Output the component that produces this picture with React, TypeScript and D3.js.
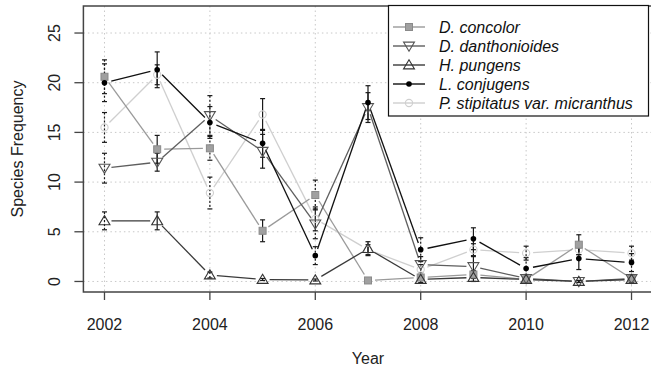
import React from "react";
import * as d3 from "d3";

const years = [2002, 2003, 2004, 2005, 2006, 2007, 2008, 2009, 2010, 2011, 2012];
const xTicks = [2002, 2004, 2006, 2008, 2010, 2012];
const yTicks = [0, 5, 10, 15, 20, 25];

const concolor = [20.6, 13.3, 13.4, 5.1, 8.7, 0.1, 0.4, 0.7, 0.2, 3.7, 0.3];
const concolorSE = [1.7, 1.4, 1.2, 1.1, 1.5, 0.1, 0.3, 0.4, 0.2, 1.0, 0.3];
const danthonioides = [11.4, 12.0, 16.7, 13.1, 5.8, 17.5, 1.7, 1.5, 0.3, 0.0, 0.3];
const danthonioidesSE = [1.5, 0.9, 2.0, 1.7, 1.5, 1.5, 0.8, 1.0, 0.4, 0.1, 0.4];
const pungens = [6.1, 6.1, 0.65, 0.2, 0.15, 3.3, 0.2, 0.4, 0.2, 0.0, 0.2];
const pungensSE = [0.9, 0.9, 0.3, 0.1, 0.1, 0.7, 0.3, 0.4, 0.3, 0.1, 0.3];
const conjugens = [20.0, 21.3, 16.0, 13.9, 2.6, 18.0, 3.2, 4.3, 1.3, 2.3, 1.9];
const conjugensSE = [1.9, 1.8, 1.6, 1.4, 0.9, 1.7, 1.2, 1.1, 1.1, 1.1, 0.9];
const stipitatus = [15.5, 20.8, 8.9, 16.8, 6.3, 3.2, 1.2, 3.2, 2.85, 3.2, 2.85];
const stipitatusSE = [1.5, 1.0, 1.6, 1.6, 1.2, 0.5, 0.5, 0.6, 0.7, 0.5, 0.7];

const seriesNames = [
  "D. concolor",
  "D. danthonioides",
  "H. pungens",
  "L. conjugens",
  "P. stipitatus var. micranthus",
];

type Sym = "square" | "tridown" | "triup" | "dot" | "circle";
const series = [
  { name: seriesNames[4], vals: stipitatus, se: stipitatusSE, color: "#cfcfcf", sym: "circle" as Sym },
  { name: seriesNames[0], vals: concolor, se: concolorSE, color: "#9a9a9a", sym: "square" as Sym },
  { name: seriesNames[1], vals: danthonioides, se: danthonioidesSE, color: "#5e5e5e", sym: "tridown" as Sym },
  { name: seriesNames[2], vals: pungens, se: pungensSE, color: "#3a3a3a", sym: "triup" as Sym },
  { name: seriesNames[3], vals: conjugens, se: conjugensSE, color: "#111111", sym: "dot" as Sym },
];
const legendOrder = [1, 2, 3, 4, 0];

const FONT = "'Liberation Sans', Arial, sans-serif";

function Marker({ sym, x, y, color }: { sym: Sym; x: number; y: number; color: string }) {
  if (sym === "square")
    return <rect x={x - 3.5} y={y - 3.5} width={7} height={7} fill="#a0a0a0" stroke="#8a8a8a" strokeWidth={1} />;
  if (sym === "dot") return <circle cx={x} cy={y} r={2.8} fill="#000" />;
  if (sym === "circle") return <circle cx={x} cy={y} r={3.6} fill="none" stroke={color} strokeWidth={1.1} />;
  const s = 5.2;
  if (sym === "triup")
    return (
      <path
        d={`M${x},${y - s}L${x + s * 1.05},${y + s * 0.75}L${x - s * 1.05},${y + s * 0.75}Z`}
        fill="none"
        stroke="#333"
        strokeWidth={1.1}
      />
    );
  return (
    <path
      d={`M${x},${y + s}L${x + s * 1.05},${y - s * 0.75}L${x - s * 1.05},${y - s * 0.75}Z`}
      fill="none"
      stroke="#555"
      strokeWidth={1.1}
    />
  );
}

export default function App() {
  const W = 651;
  const H = 373;
  const x = d3.scaleLinear().domain([2001.6, 2012.4]).range([83.4, 652.6]);
  const y = d3.scaleLinear().domain([-1.06, 27.72]).range([292, 6]);
  const left = 83.4;
  const top = 6;
  const bottom = 292;
  const gap = 7;

  const segs = (vals: number[]) => {
    const out: { x1: number; y1: number; x2: number; y2: number }[] = [];
    for (let i = 0; i < vals.length - 1; i++) {
      const ax = x(years[i]), ay = y(vals[i]);
      const bx = x(years[i + 1]), by = y(vals[i + 1]);
      const L = Math.hypot(bx - ax, by - ay);
      if (L <= 2 * gap) continue;
      const ux = (bx - ax) / L, uy = (by - ay) / L;
      out.push({ x1: ax + ux * gap, y1: ay + uy * gap, x2: bx - ux * gap, y2: by - uy * gap });
    }
    return out;
  };

  return (
    <svg width={W} height={H} style={{ position: "absolute", left: 0, top: 0, background: "#fff" }} fontFamily={FONT}>
      <rect x={0} y={0} width={W} height={H} fill="#fff" />
      {/* grid */}
      {xTicks.map((t) => (
        <line key={"gx" + t} x1={x(t)} x2={x(t)} y1={top} y2={bottom} stroke="#c8c8c8" strokeDasharray="1.5,3" strokeWidth={1} />
      ))}
      {yTicks.map((t) => (
        <line key={"gy" + t} x1={left} x2={W} y1={y(t)} y2={y(t)} stroke="#c8c8c8" strokeDasharray="1.5,3" strokeWidth={1} />
      ))}
      {/* lines */}
      {series.map((s) => (
        <g key={"l" + s.name}>
          {segs(s.vals).map((g, i) => (
            <line key={i} x1={g.x1} y1={g.y1} x2={g.x2} y2={g.y2} stroke={s.color} strokeWidth={1.3} />
          ))}
        </g>
      ))}
      {/* error bars */}
      {series.map((s) => (
        <g key={"e" + s.name}>
          {s.vals.map((v, i) => {
            const yr = years[i];
            const dotted = yr % 2 === 0;
            const cx = x(yr);
            const y1 = y(v + s.se[i]);
            const y2 = y(v - s.se[i]);
            return (
              <g key={i} stroke="#1a1a1a" strokeWidth={1.2}>
                <line x1={cx} x2={cx} y1={y1} y2={y2} strokeDasharray={dotted ? "2,2" : undefined} />
                <line x1={cx - 2.5} x2={cx + 2.5} y1={y1} y2={y1} />
                <line x1={cx - 2.5} x2={cx + 2.5} y1={y2} y2={y2} />
              </g>
            );
          })}
        </g>
      ))}
      {/* markers */}
      {series.map((s) => (
        <g key={"m" + s.name}>
          {s.vals.map((v, i) => (
            <Marker key={i} sym={s.sym} x={x(years[i])} y={y(v)} color={s.color} />
          ))}
        </g>
      ))}
      {/* box */}
      <path d={`M${W + 2},${top}H${left}V${bottom}H${W + 2}`} fill="none" stroke="#444" strokeWidth={1.5} />
      {/* axes ticks */}
      {xTicks.map((t) => (
        <g key={"tx" + t}>
          <line x1={x(t)} x2={x(t)} y1={bottom} y2={bottom + 8} stroke="#444" strokeWidth={1.3} />
          <text x={x(t)} y={324} textAnchor="middle" dominantBaseline="central" fontSize={16} fill="#222">
            {t}
          </text>
        </g>
      ))}
      {yTicks.map((t) => (
        <g key={"ty" + t}>
          <line x1={left - 9} x2={left} y1={y(t)} y2={y(t)} stroke="#444" strokeWidth={1.3} />
          <text
            transform={`translate(54,${y(t)}) rotate(-90)`}
            textAnchor="middle"
            dominantBaseline="central"
            fontSize={16}
            fill="#222"
          >
            {t}
          </text>
        </g>
      ))}
      <text x={(83.4 + 652.6) / 2} y={358} textAnchor="middle" dominantBaseline="central" fontSize={16} fill="#222">
        Year
      </text>
      <text
        transform={`translate(17,${(top + bottom) / 2}) rotate(-90)`}
        textAnchor="middle"
        dominantBaseline="central"
        fontSize={16}
        fill="#222"
      >
        Species Frequency
      </text>
      {/* legend */}
      <rect x={388.5} y={5.5} width={260} height={110.5} fill="#fff" stroke="#111" strokeWidth={1.2} />
      {legendOrder.map((si, k) => {
        const s = series[si];
        const ly = 27 + k * 19;
        return (
          <g key={"lg" + k}>
            <line x1={393} x2={425} y1={ly} y2={ly} stroke={s.color} strokeWidth={1.4} />
            <Marker sym={s.sym} x={409} y={ly} color={s.color} />
            <text x={439} y={ly} dominantBaseline="central" fontSize={16} fontStyle="italic" fill="#111">
              {s.name}
            </text>
          </g>
        );
      })}
    </svg>
  );
}
